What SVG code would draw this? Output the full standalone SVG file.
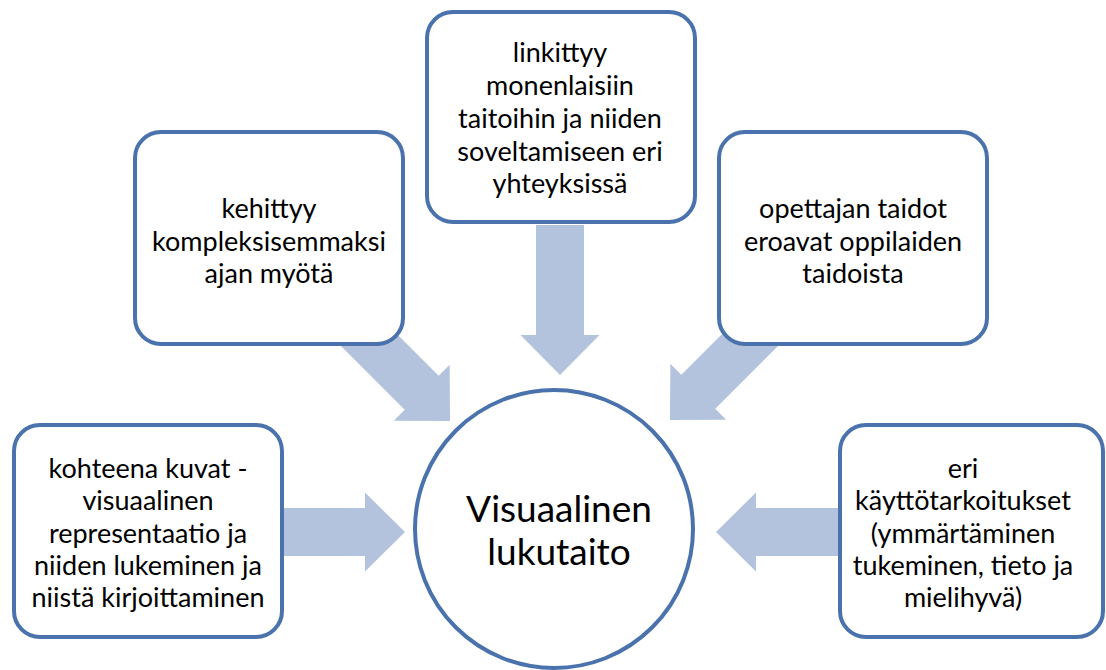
<svg xmlns="http://www.w3.org/2000/svg" width="1106" height="670" viewBox="0 0 1106 670">
<defs>
<style>
.box{fill:#fff;stroke:#4A72AC;stroke-width:4}
.arr{fill:#B3C3DD}
.t{font-family:Lato,"Liberation Sans",sans-serif;font-size:27px;fill:#000;text-anchor:middle}
.c{font-family:Lato,"Liberation Sans",sans-serif;font-size:37px;fill:#000;text-anchor:middle}
</style>
<path id="a" d="M0,0 L-40,-39.5 L-40,-24 L-150,-24 L-150,24 L-40,24 L-40,39.5 Z"/>
</defs>
<g id="connectors">
<use href="#a" class="arr" transform="translate(450,421) rotate(45)"/>
<use href="#a" class="arr" transform="translate(560,375) rotate(90)"/>
<use href="#a" class="arr" transform="translate(670,420) rotate(135)"/>
<use href="#a" class="arr" transform="translate(405,532)"/>
<use href="#a" class="arr" transform="translate(716,532) rotate(180)"/>
</g>
<g id="center">
<circle class="box" cx="554" cy="529" r="139"/>
<text class="c" x="559" y="522">Visuaalinen</text>
<text class="c" x="559" y="565">lukutaito</text>
</g>
<g id="top">
<rect class="box" x="427" y="12" width="268" height="210" rx="26"/>
<text class="t" x="560" y="62">linkittyy</text>
<text class="t" x="560" y="95">monenlaisiin</text>
<text class="t" x="560" y="128">taitoihin ja niiden</text>
<text class="t" x="560" y="161">soveltamiseen eri</text>
<text class="t" x="560" y="193">yhteyksissä</text>
</g>
<g id="upperleft">
<rect class="box" x="135" y="132" width="268" height="212" rx="26"/>
<text class="t" x="269" y="218">kehittyy</text>
<text class="t" x="269" y="251">kompleksisemmaksi</text>
<text class="t" x="269" y="283">ajan myötä</text>
</g>
<g id="upperright">
<rect class="box" x="719" y="132" width="268" height="212" rx="26"/>
<text class="t" x="853" y="218">opettajan taidot</text>
<text class="t" x="853" y="251">eroavat oppilaiden</text>
<text class="t" x="853" y="283">taidoista</text>
</g>
<g id="lowerleft">
<rect class="box" x="14" y="425" width="268" height="212" rx="26"/>
<text class="t" x="148" y="478">kohteena kuvat -</text>
<text class="t" x="148" y="510">visuaalinen</text>
<text class="t" x="148" y="543">representaatio ja</text>
<text class="t" x="148" y="575">niiden lukeminen ja</text>
<text class="t" x="148" y="607">niistä kirjoittaminen</text>
</g>
<g id="lowerright">
<rect class="box" x="840" y="425" width="263" height="212" rx="26"/>
<text class="t" x="963" y="478">eri</text>
<text class="t" x="963" y="510">käyttötarkoitukset</text>
<text class="t" x="963" y="543">(ymmärtäminen</text>
<text class="t" x="963" y="575">tukeminen, tieto ja</text>
<text class="t" x="963" y="607">mielihyvä)</text>
</g>
</svg>
